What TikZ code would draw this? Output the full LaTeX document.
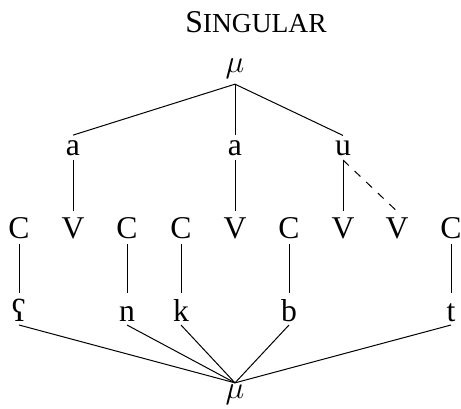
\documentclass[tikz,border=0pt]{standalone}
\usepackage{fontspec}
\setmainfont{Liberation Serif}
\newcommand\bigfs{\fontsize{31.7pt}{38pt}\selectfont}
\newcommand\scfs{\fontsize{27.5pt}{33pt}\selectfont}
\newcommand\bigmu{\scalebox{1.274}{$\mu$}}
\begin{document}
\begin{tikzpicture}[x=1pt,y=-1pt,line width=1pt,
  every node/.style={font=\bigfs, inner sep=0pt, anchor=base},
  murow/.style={outer sep=6pt},
  mubot/.style={outer sep=2pt},
  arow/.style={text depth=0pt, outer sep=5pt},
  cvrow/.style={text depth=0pt, outer sep=6pt},
  segrow/.style={text height=24pt, text depth=0pt, outer sep=4pt},
  link/.style={draw=black},
  dlink/.style={draw=black, dash pattern=on 8pt off 8pt}]
\useasboundingbox (0,0) rectangle (461,408);
\node (title) at (256,32) {S{\scfs INGULAR}};
\node[murow] (mt) at (235,72) {\bigmu};
% vowel melody
\node[arow] (a1) at (73,155) {a};
\node[arow] (a2) at (235,155) {a};
\node[arow] (u) at (343,155) {u};
% skeleton
\node[cvrow] (c1) at (19,238) {C};
\node[cvrow] (v1) at (73,238) {V};
\node[cvrow] (c2) at (127,238) {C};
\node[cvrow] (c3) at (181,238) {C};
\node[cvrow] (v2) at (235,238) {V};
\node[cvrow] (c4) at (289,238) {C};
\node[cvrow] (v3) at (343,238) {V};
\node[cvrow] (v4) at (397,238) {V};
\node[cvrow] (c5) at (451,238) {C};
% consonantal root
\node[segrow] (s1) at (19,321) {ʕ};
\node[segrow] (s2) at (127,321) {n};
\node[segrow] (s3) at (181,321) {k};
\node[segrow] (s4) at (289,321) {b};
\node[segrow] (s5) at (451,321) {t};
\node[mubot] (mb) at (235,398.5) {\bigmu};
% connectors
\draw[link] (mt.south) -- (a1.north);
\draw[link] (mt.south) -- (a2.north);
\draw[link] (mt.south) -- (u.north);
\draw[link] (a1.south) -- (v1.north);
\draw[link] (a2.south) -- (v2.north);
\draw[link] (u.south) -- (v3.north);
\draw[dlink] (u.south) -- (v4.north);
\draw[link] (c1.south) -- (s1.north);
\draw[link] (c2.south) -- (s2.north);
\draw[link] (c3.south) -- (s3.north);
\draw[link] (c4.south) -- (s4.north);
\draw[link] (c5.south) -- (s5.north);
\foreach \s in {s1,s2,s3,s4,s5} \draw[link] (\s.south) -- (mb.north);
\end{tikzpicture}
\end{document}
